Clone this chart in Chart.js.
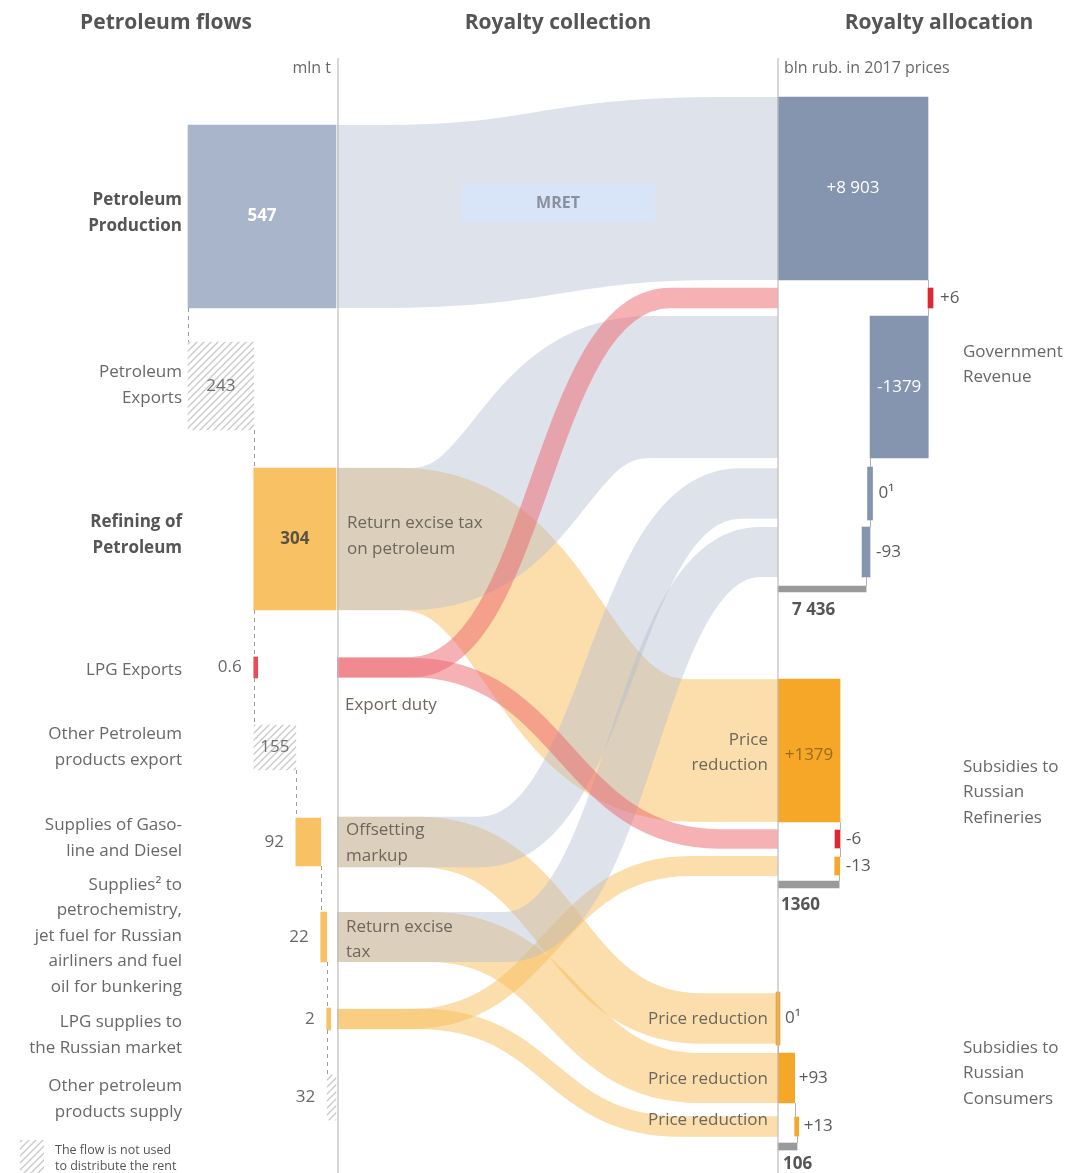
<!DOCTYPE html>
<html>
<head>
<meta charset="utf-8">
<script src="https://cdn.jsdelivr.net/npm/chart.js@4.4.0/dist/chart.umd.min.js"></script>
<style>
  html, body { margin: 0; padding: 0; background: #fff; }
  #wrap { position: relative; width: 1078px; height: 1173px; }
</style>
</head>
<body>
<div id="wrap"><canvas id="chart"></canvas></div>
<script>
// ---- data ----
const flowCategories = [
    ['Petroleum', 'Production'],
    ['Petroleum', 'Exports'],
    ['Refining of', 'Petroleum'],
    ['LPG Exports'],
    ['Other Petroleum', 'products export'],
    ['Supplies of Gaso-', 'line and Diesel'],
    ['Supplies\u00b2 to', 'petrochemistry,', 'jet fuel for Russian', 'airliners and fuel', 'oil for bunkering'],
    ['LPG supplies to', 'the Russian market'],
    ['Other petroleum', 'products supply']
];
const flowValues = [547, 243, 304, 0.6, 155, 92, 22, 2, 32];   // mln t

const govCategories = ['MRET', 'Export duty', 'Return excise tax on petroleum', 'Offsetting markup', 'Return excise tax'];
const govValues = [8903, 6, -1379, 0, -93];                     // bln rub
const govTotal = 7436;
const govLabels = ['+8 903', '+6', '-1379', '0\u00b9', '-93', '7 436'];

const refineryCategories = ['Return excise tax on petroleum', 'Export duty', 'LPG'];
const refineryValues = [1379, -6, -13];
const refineryTotal = 1360;
const refineryLabels = ['+1379', '-6', '-13', '1360'];

const consumerCategories = ['Offsetting markup', 'Return excise tax', 'LPG'];
const consumerValues = [0, 93, 13];
const consumerTotal = 106;
const consumerLabels = ['0\u00b9', '+93', '+13', '106'];

// ---- layout ----
const W = 1078, H = 1173;
const LEFT_LINE = 338, RIGHT_LINE = 778;
const GOV_AXIS_START = 5350;   // the allocation axis is broken, it does not start at zero
const FONT = '"Open Sans", "Noto Sans", sans-serif';
const TEXT = '#686868';

// vertical band (top, bottom) of every bar on the page
const flowRows = [[125, 308], [342, 430], [468, 610], [657, 678], [725, 770], [818, 866], [912, 962], [1008, 1030], [1075, 1120]];
const flowLabelY = [213, 385, 535, 670, 747, 838, 936, 1035, 1099];
const govRows = [[97, 280], [288, 308], [316, 458], [467, 520], [527, 577], [586, 592]];
const refineryRows = [[679, 822], [830, 848], [857, 875], [881, 888]];
const consumerRows = [[992, 1045], [1053, 1103], [1117, 1136], [1143, 1150]];

const BLUE_LIGHT = '#a9b5ca', BLUE = '#8595b0', ORANGE_LIGHT = '#f8c163', ORANGE = '#f6a727';
const RED = '#e0262f', GREY = '#9a9a9a';
const GRAY_BAND = 'rgba(176,187,207,0.42)';
const ORANGE_BAND = 'rgba(248,190,90,0.5)';
const RED_BAND = 'rgba(238,100,108,0.5)';

function makeHatch() {
    const c = document.createElement('canvas');
    c.width = 7; c.height = 7;
    const g = c.getContext('2d');
    g.strokeStyle = '#c9c9c9';
    g.lineWidth = 1.3;
    g.beginPath();
    g.moveTo(-1, 8); g.lineTo(8, -1);
    g.moveTo(-1, 1); g.lineTo(1, -1);
    g.moveTo(6, 8); g.lineTo(8, 6);
    g.stroke();
    return g.createPattern(c, 'repeat');
}
const hatch = makeHatch();

// map a value range onto page pixels, for an axis spanning the full canvas
function fitAxis(v0, p0, v1, p1) {
    const k = (p1 - p0) / (v1 - v0);
    const min = v0 - p0 / k;
    return { min: min, max: min + W / k };
}
const axes = {
    xFlow: fitAxis(0, 188, 547, 336),
    xGov: fitAxis(GOV_AXIS_START, RIGHT_LINE, 8903, 928),
    xRef: fitAxis(0, RIGHT_LINE, 1379, 840),
    xCons: fitAxis(0, RIGHT_LINE, 106, 797)
};

// ---- bars (waterfalls) ----
const bars = [];
function addBar(key, axis, base, value, row, color, minLen, isTotal) {
    bars.push({ key, axis, base, value, top: row[0], bottom: row[1], color, minLen: minLen || 0, isTotal: !!isTotal });
}

const flowColors = [BLUE_LIGHT, hatch, ORANGE_LIGHT, '#e84c55', hatch, ORANGE_LIGHT, ORANGE_LIGHT, ORANGE_LIGHT, hatch];
addBar('f0', 'xFlow', 0, flowValues[0], flowRows[0], flowColors[0]);
addBar('f1', 'xFlow', 0, flowValues[1], flowRows[1], flowColors[1]);
addBar('f2', 'xFlow', flowValues[1], flowValues[1] + flowValues[2], flowRows[2], flowColors[2]);
let run = flowValues[1];
for (let i = 3; i < flowValues.length; i++) {
    addBar('f' + i, 'xFlow', run, run + flowValues[i], flowRows[i], flowColors[i], 4);
    run += flowValues[i];
}

const govColors = [BLUE, RED, BLUE, BLUE, BLUE];
addBar('g0', 'xGov', GOV_AXIS_START, govValues[0], govRows[0], govColors[0]);
run = govValues[0];
for (let i = 1; i < govValues.length; i++) {
    addBar('g' + i, 'xGov', run, run + govValues[i], govRows[i], govColors[i], i === 4 ? 8 : 5);
    run += govValues[i];
}
addBar('g5', 'xGov', GOV_AXIS_START, govTotal, govRows[5], GREY, 0, true);

const refineryColors = [ORANGE, RED, ORANGE];
run = 0;
for (let i = 0; i < refineryValues.length; i++) {
    addBar('r' + i, 'xRef', run, run + refineryValues[i], refineryRows[i], refineryColors[i], 5);
    run += refineryValues[i];
}
addBar('r3', 'xRef', 0, refineryTotal, refineryRows[3], GREY, 0, true);

run = 0;
for (let i = 0; i < consumerValues.length; i++) {
    addBar('c' + i, 'xCons', run, run + consumerValues[i], consumerRows[i], ORANGE, 4);
    run += consumerValues[i];
}
addBar('c3', 'xCons', 0, consumerTotal, consumerRows[3], GREY, 0, true);

// royalty flows between the two columns
const links = [
    { from: 'f2', to: 'r0', color: ORANGE_BAND, bend: [400, 690] },
    { from: 'f5', to: 'c0', color: ORANGE_BAND, bend: [420, 700] },
    { from: 'f6', to: 'c1', color: ORANGE_BAND, bend: [430, 700] },
    { from: 'f7', to: 'r2', color: ORANGE_BAND, bend: [410, 690] },
    { from: 'f7', to: 'c2', color: ORANGE_BAND, bend: [420, 680] },
    { from: 'f0', to: 'g0', color: GRAY_BAND, bend: [380, 720] },
    { from: 'f2', to: 'g2', color: GRAY_BAND, bend: [410, 650] },
    { from: 'f5', to: 'g3', color: GRAY_BAND, bend: [480, 740] },
    { from: 'f6', to: 'g4', color: GRAY_BAND, bend: [505, 760] },
    { from: 'f3', to: 'g1', color: RED_BAND, bend: [410, 670] },
    { from: 'f3', to: 'r1', color: RED_BAND, bend: [410, 720] }
];

// ---- drawing helpers ----
function barBox(chart, key) {
    const i = bars.findIndex(b => b.key === key);
    const el = chart.getDatasetMeta(i).data[0];
    return {
        left: Math.min(el.x, el.base), right: Math.max(el.x, el.base),
        top: el.y - el.height / 2, bottom: el.y + el.height / 2, cy: el.y,
        cx: (el.x + el.base) / 2
    };
}

function label(ctx, lines, x, y, opt) {
    opt = opt || {};
    const size = opt.size || 17;
    ctx.font = (opt.bold ? 'bold ' : '') + size + 'px ' + FONT;
    ctx.fillStyle = opt.color || TEXT;
    ctx.textAlign = opt.align || 'left';
    ctx.textBaseline = 'middle';
    const lh = opt.lh || 25.5;
    const y0 = y - (lines.length - 1) * lh / 2;
    lines.forEach((s, i) => ctx.fillText(s, x, y0 + i * lh));
}

function drawLink(ctx, chart, link) {
    const a = barBox(chart, link.from), b = barBox(chart, link.to);
    const t0 = link.bend[0], t1 = link.bend[1], tm = (t0 + t1) / 2;
    ctx.beginPath();
    ctx.moveTo(LEFT_LINE - 1, a.cy);
    ctx.lineTo(t0, a.cy);
    ctx.bezierCurveTo(tm, a.cy, tm, b.cy, t1, b.cy);
    ctx.lineTo(RIGHT_LINE + 1, b.cy);
    ctx.lineWidth = ((a.bottom - a.top) + (b.bottom - b.top)) / 2;
    ctx.strokeStyle = link.color;
    ctx.lineCap = 'butt';
    ctx.stroke();
}

function connectors(ctx, chart, keys, dashed) {
    ctx.save();
    ctx.strokeStyle = dashed ? '#9c9c9c' : '#b3b3b3';
    ctx.lineWidth = 1;
    ctx.setLineDash(dashed ? [4, 4] : []);
    for (let i = 0; i < keys.length - 1; i++) {
        const next = bars.find(b => b.key === keys[i + 1]);
        const scale = chart.scales[next.axis];
        const x = Math.round(scale.getPixelForValue(next.isTotal ? next.value : next.base)) + 0.5;
        const a = barBox(chart, keys[i]), b = barBox(chart, keys[i + 1]);
        ctx.beginPath();
        ctx.moveTo(x, a.bottom);
        ctx.lineTo(x, b.top);
        ctx.stroke();
    }
    ctx.restore();
}

const diagramPlugin = {
    id: 'diagram',
    beforeDatasetsDraw(chart) {
        const ctx = chart.ctx;
        ctx.save();
        ctx.beginPath();
        ctx.rect(LEFT_LINE - 1, 0, RIGHT_LINE - LEFT_LINE + 1, H);
        ctx.clip();
        links.forEach(l => drawLink(ctx, chart, l));
        ctx.restore();

        // MRET tag on its band
        ctx.save();
        ctx.fillStyle = 'rgba(215,229,250,0.85)';
        ctx.fillRect(462, 184, 193, 38);
        label(ctx, [govCategories[0]], 558, 203, { bold: true, size: 16, color: '#8a909e', align: 'center' });
        ctx.restore();
    },
    afterDatasetsDraw(chart) {
        const ctx = chart.ctx;
        ctx.save();

        // column separators
        ctx.strokeStyle = '#bdbdbd';
        ctx.lineWidth = 1.2;
        [LEFT_LINE, RIGHT_LINE].forEach(x => {
            ctx.beginPath();
            ctx.moveTo(x, 58);
            ctx.lineTo(x, H);
            ctx.stroke();
        });

        connectors(ctx, chart, ['f0', 'f1', 'f2', 'f3', 'f4', 'f5', 'f6', 'f7', 'f8'], true);
        connectors(ctx, chart, ['g0', 'g1', 'g2', 'g3', 'g4', 'g5'], false);
        connectors(ctx, chart, ['r0', 'r1', 'r2', 'r3'], false);
        connectors(ctx, chart, ['c0', 'c1', 'c2', 'c3'], false);

        // headers and units
        label(ctx, ['Petroleum flows'], 166, 23, { bold: true, size: 21, color: '#555', align: 'center' });
        label(ctx, ['Royalty collection'], 558, 23, { bold: true, size: 21, color: '#555', align: 'center' });
        label(ctx, ['Royalty allocation'], 939, 23, { bold: true, size: 21, color: '#555', align: 'center' });
        label(ctx, ['mln t'], 331, 68, { size: 16, align: 'right' });
        label(ctx, ['bln rub. in 2017 prices'], 784, 68, { size: 16 });

        // petroleum flow rows
        const inside = [true, true, true, false, true, false, false, false, false];
        flowCategories.forEach((lines, i) => {
            const bold = i === 0 || i === 2;
            label(ctx, lines, 182, flowLabelY[i], { bold: bold, color: bold ? '#555' : TEXT, align: 'right' });
            const box = barBox(chart, 'f' + i);
            const txt = String(flowValues[i]);
            if (inside[i]) {
                const style = i === 0 ? { bold: true, color: '#fff' } : i === 2 ? { bold: true, color: '#5a5245' } : { color: '#707070' };
                style.align = 'center';
                label(ctx, [txt], box.cx, box.cy, style);
            } else {
                label(ctx, [txt], box.left - 12, box.cy, { align: 'right' });
            }
        });

        // royalty collection labels
        const midColor = '#6d675c';
        label(ctx, ['Return excise tax', 'on petroleum'], 347, 536, { color: midColor });
        label(ctx, ['Export duty'], 345, 705, { color: midColor });
        label(ctx, ['Offsetting', 'markup'], 346, 843, { color: midColor });
        label(ctx, ['Return excise', 'tax'], 346, 939.5, { color: midColor });
        label(ctx, ['Price', 'reduction'], 768, 752.5, { color: midColor, align: 'right' });
        label(ctx, ['Price reduction'], 768, 1019, { color: midColor, align: 'right' });
        label(ctx, ['Price reduction'], 768, 1079, { color: midColor, align: 'right' });
        label(ctx, ['Price reduction'], 768, 1120, { color: midColor, align: 'right' });

        // allocation values
        const gov = ['g0', 'g1', 'g2', 'g3', 'g4', 'g5'].map(k => barBox(chart, k));
        label(ctx, [govLabels[0]], gov[0].cx, gov[0].cy, { color: '#fff', align: 'center' });
        label(ctx, [govLabels[1]], gov[1].right + 7, gov[1].cy, { color: '#5a5a5a' });
        label(ctx, [govLabels[2]], gov[2].cx, gov[2].cy, { color: '#fff', align: 'center' });
        label(ctx, [govLabels[3]], gov[3].right + 6, gov[3].cy, { color: '#5a5a5a' });
        label(ctx, [govLabels[4]], gov[4].right + 6, gov[4].cy, { color: '#5a5a5a' });
        label(ctx, [govLabels[5]], gov[5].left + 14, gov[5].bottom + 18, { bold: true, color: '#555' });

        const ref = ['r0', 'r1', 'r2', 'r3'].map(k => barBox(chart, k));
        label(ctx, [refineryLabels[0]], ref[0].cx, ref[0].cy + 5, { color: '#9c6a1c', align: 'center' });
        label(ctx, [refineryLabels[1]], ref[1].right + 6, ref[1].cy, { color: '#5a5a5a' });
        label(ctx, [refineryLabels[2]], ref[2].right + 6, ref[2].cy, { color: '#5a5a5a' });
        label(ctx, [refineryLabels[3]], ref[3].left + 3, ref[3].bottom + 17, { bold: true, color: '#555' });

        const con = ['c0', 'c1', 'c2', 'c3'].map(k => barBox(chart, k));
        label(ctx, [consumerLabels[0]], con[0].right + 5, con[0].cy, { color: '#5a5a5a' });
        label(ctx, [consumerLabels[1]], con[1].right + 4, con[1].cy, { color: '#5a5a5a' });
        label(ctx, [consumerLabels[2]], con[2].right + 5, con[2].cy, { color: '#5a5a5a' });
        label(ctx, [consumerLabels[3]], con[3].left + 5, con[3].bottom + 14, { bold: true, color: '#555' });

        // allocation groups
        label(ctx, ['Government', 'Revenue'], 963, 364.5);
        label(ctx, ['Subsidies to', 'Russian', 'Refineries'], 963, 792.5);
        label(ctx, ['Subsidies to', 'Russian', 'Consumers'], 963, 1073.5);

        // legend for the hatched flows
        ctx.fillStyle = hatch;
        ctx.fillRect(20, 1140, 24, 33);
        label(ctx, ['The flow is not used', 'to distribute the rent'], 55, 1158, { size: 12.5, lh: 16, color: '#555' });

        ctx.restore();
    }
};

// ---- chart ----
// every bar sits at 0 on its own row axis; the axis range places that row on the page
const scales = {};
Object.keys(axes).forEach(id => {
    scales[id] = {
        type: 'linear', axis: 'x', display: false, bounds: 'data', beginAtZero: false, stacked: false,
        min: axes[id].min, max: axes[id].max, grid: { display: false }
    };
});
bars.forEach((b, i) => {
    const center = (b.top + b.bottom) / 2;
    scales['y' + i] = {
        type: 'linear', axis: 'y', display: false, bounds: 'data', offset: false,
        min: -center, max: H - center, reverse: true, grid: { display: false },
        afterBuildTicks: scale => { scale.ticks = []; }
    };
});

const datasets = bars.map((b, i) => ({
    label: b.key,
    data: [{ x: b.value, y: 0 }],
    base: b.base,
    grouped: false,
    indexAxis: 'y',
    xAxisID: b.axis,
    yAxisID: 'y' + i,
    backgroundColor: b.color,
    borderWidth: 0,
    barThickness: b.bottom - b.top,
    maxBarThickness: b.bottom - b.top,
    minBarLength: b.minLen
}));

new Chart(document.getElementById('chart').getContext('2d'), {
    type: 'bar',
    data: { datasets: datasets },
    options: {
        indexAxis: 'y',
        responsive: true,
        maintainAspectRatio: false,
        animation: false,
        events: [],
        layout: { padding: 0 },
        scales: scales,
        plugins: {
            legend: { display: false },
            tooltip: { enabled: false },
            title: { display: false }
        }
    },
    plugins: [diagramPlugin]
});
</script>
</body>
</html>
